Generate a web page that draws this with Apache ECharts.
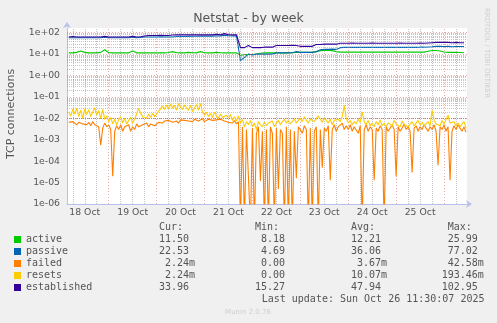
<!DOCTYPE html>
<html><head><meta charset="utf-8">
<script src="https://cdn.jsdelivr.net/npm/echarts@6/dist/echarts.min.js"></script>
<style>html,body{margin:0;padding:0;background:#f0f0f0;}#c{width:497px;height:323px;}</style>
</head><body><div id="c"></div>
<script>
// ---- data (x = hours since 18 Oct 00:00) ----
const seriesNames = ['active','passive','failed','resets','established'];
const seriesColors = ['#00CC00','#0066B3','#FF8000','#FFCC00','#330099'];
const dayLabels = ['18 Oct','19 Oct','20 Oct','21 Oct','22 Oct','23 Oct','24 Oct','25 Oct'];
const dayLabelHours = [12,36,60,84,108,132,156,180];
const midnightHours = [24,48,72,96,120,144,168,192];
const sixHourHours = [6,12,18,30,36,42,54,60,66,78,84,90,102,108,114,126,132,138,150,156,162,174,180,186,198];
const yTickValues = [1e-6,1e-5,1e-4,1e-3,1e-2,1e-1,1,10,100];
const yMinorValues = [];
[1e-6,1e-5,1e-4,1e-3,1e-2,1e-1,1,10].forEach(d=>{for(let k=2;k<=9;k++) yMinorValues.push(k*d);});

// sample times: every 2 h (smooth series) and every 1 h (noisy series)
const coarseHours = []; for (let i=0;i<100;i++) coarseHours.push(4+2*i);
const fineHours = []; for (let i=0;i<200;i++) fineHours.push(4+i);

const established = [
 63,66,63,63,63,63,63,63,63,67,
 63,63,63,63,63,63,67,63,64,70,
 74,74,74,75,74,74,78,79,79,79,
 79,80,79,79,79,79,79,84,79,90,
 80,79,80,20,20,25,20,20,20,21,
 21,21,25,25,25,25,26,25,23,23,
 23,23,28,28,29,29,29,29,32,32,
 32,33,32,32,32,32,33,32,32,32,
 32,32,32,33,32,32,32,32,33,32,
 33,34,35,35,35,35,34,35,34,34];
const passive = [
 58,58,58,58,58,58,58,58,58,62,
 58,58,58,58,58,58,62,58,60,63,
 63,63,63,64,63,63,63,66,66,66,
 67,68,68,69,69,70,69,72,70,77,
 72,70,72,5,7,10,9,10,10,10,
 10,10,11.4,11.4,11.4,11.4,11.5,13,12,12,
 12,12,13,16,16.5,16.5,17,16.5,20,20.5,
 20.5,21,20.5,20.5,21,20.5,20.5,21,20.5,20.5,
 20.5,21,20.5,20.5,21,20.5,21,20.5,21,21,
 21.5,22,23,23,22.5,23,22,22.5,22.5,22.5];
const active = [
 11.4,11.4,12,14,12,11.4,11.4,11.4,12,16,
 11.6,11.4,11.4,11.4,11.6,11.4,14,11.4,11.4,11.6,
 11.4,11.4,11.4,11.6,11.4,11.8,13,11.6,11.4,11.4,
 12,11.6,11.4,13,11.6,11.4,11.4,12,11.6,11.4,
 11.4,11.6,11.4,8.6,9.6,9.6,9.6,10,11,11.4,
 11.4,11.4,11.4,11.6,11.4,11.4,11.6,12,12,12,
 12,12,13,14.5,14.7,14.7,14.5,13,12.3,12.3,
 12.3,12.3,12.5,12.3,12.3,12.3,12.3,12.5,12.3,12.3,
 12.3,12.3,12.5,12.3,12.3,12.3,12.3,12.3,12.5,12.3,
 13.5,14.7,14.7,14,12.5,12,12,12,11.8,11.5];
// 1e-7 = sample of 0 (drawn below the bottom of the log scale)
const failed = [
 6.5e-3,5.5e-3,7e-3,6e-3,5e-3,6.5e-3,7.5e-3,5.5e-3,6e-3,5e-3,
 6.5e-3,4.5e-3,7e-3,5e-3,6e-3,4e-3,5.5e-4,3.5e-3,6e-3,4e-3,
 5e-3,3e-3,2e-5,2.5e-3,4.5e-3,3e-3,5e-3,2.5e-3,4e-3,3.5e-3,
 5e-3,2.5e-3,4e-3,3e-3,5.5e-3,4e-3,3.5e-3,5e-3,4.5e-3,6e-3,
 4e-3,5.5e-3,6e-3,4.5e-3,5e-3,6.5e-3,7e-3,6e-3,7.5e-3,6.5e-3,
 8e-3,7e-3,6.5e-3,8e-3,7.5e-3,6e-3,8.5e-3,7e-3,8e-3,9e-3,
 7.5e-3,8e-3,7e-3,9e-3,8e-3,7.5e-3,8.5e-3,9.5e-3,7e-3,8e-3,
 9e-3,7.5e-3,8e-3,6.5e-3,8.5e-3,7e-3,9e-3,8e-3,7.5e-3,8e-3,
 6.5e-3,7.5e-3,6e-3,8e-3,5.5e-3,7e-3,1e-7,4e-3,1e-7,3e-3,
 2.5e-3,1e-7,3.5e-3,1e-7,2e-3,4e-3,1.2e-5,2.5e-3,1e-7,3e-3,
 1e-7,4e-3,2e-3,1e-7,3.5e-3,5e-6,3e-3,2e-3,1e-7,4e-3,
 1e-7,3e-3,1e-7,2.5e-3,1.6e-5,4e-3,3e-3,2e-3,4.5e-3,3e-3,
 1e-7,3.5e-3,1e-7,2.5e-3,4e-3,1e-7,3e-3,5e-5,3.5e-3,2.5e-3,
 4.5e-3,1.3e-5,3e-3,5e-3,2.5e-3,4e-3,3.5e-3,6e-3,3e-3,4.5e-3,
 3e-3,5e-3,2.5e-3,4e-3,3.5e-3,2e-3,4.5e-3,1e-7,3e-3,5e-3,
 2.5e-3,4e-3,3e-3,1.3e-5,3.5e-3,2.5e-3,4.5e-3,3e-3,1e-7,4e-3,
 2.5e-3,3.5e-3,5e-3,3e-3,2e-5,4e-3,2.5e-3,3.5e-3,5.5e-3,3e-3,
 4e-3,2.5e-3,3e-5,3.5e-3,4.5e-3,2.5e-3,4e-3,3e-3,5e-3,3.5e-3,
 2.5e-3,4e-3,3e-3,5e-3,2.5e-3,6.5e-5,4e-3,3e-3,5e-3,2.5e-3,
 4e-3,1.3e-5,2.5e-3,4.5e-3,3e-3,5e-3,3.5e-3,2.5e-3,4e-3,2.24e-3];
const resets = [
 0.020,0.013,0.027,0.016,0.030,0.012,0.024,0.010,0.028,0.015,
 0.025,0.012,0.020,0.031,0.014,0.023,0.010,0.026,0.009,0.013,
 0.007,0.011,0.0055,0.009,0.005,0.0085,0.012,0.006,0.010,0.0055,
 0.008,0.011,0.006,0.009,0.011,0.029,0.017,0.012,0.014,0.010,
 0.016,0.011,0.017,0.012,0.011,0.021,0.026,0.037,0.026,0.042,
 0.028,0.047,0.030,0.040,0.024,0.049,0.033,0.026,0.042,0.031,
 0.024,0.040,0.020,0.031,0.044,0.024,0.050,0.019,0.014,0.019,
 0.012,0.017,0.011,0.020,0.013,0.010,0.016,0.011,0.009,0.014,
 0.010,0.015,0.008,0.012,0.0075,0.013,0.006,0.009,0.004,0.007,
 0.005,0.008,0.004,0.006,0.003,0.007,0.005,0.004,0.0065,0.0045,
 0.006,0.005,0.0075,0.004,0.006,0.008,0.005,0.007,0.009,0.006,
 0.008,0.0055,0.007,0.0095,0.006,0.008,0.010,0.007,0.012,0.008,
 0.006,0.009,0.011,0.007,0.0085,0.013,0.009,0.0065,0.010,0.008,
 0.006,0.009,0.005,0.008,0.0065,0.009,0.007,0.012,0.040,0.010,
 0.006,0.008,0.005,0.007,0.0055,0.009,0.0065,0.020,0.007,0.005,
 0.008,0.0045,0.006,0.004,0.007,0.005,0.0085,0.0045,0.006,0.004,
 0.006,0.007,0.0045,0.008,0.0055,0.0065,0.004,0.0075,0.005,0.006,
 0.004,0.0055,0.007,0.0045,0.006,0.008,0.005,0.0065,0.0045,0.0055,
 0.007,0.0045,0.024,0.008,0.0055,0.0065,0.0045,0.008,0.0055,0.006,
 0.014,0.006,0.005,0.007,0.0045,0.006,0.004,0.0055,0.007,0.0035];

// legend statistics (text)
const curText = ['11.50','22.53','2.24m','2.24m','33.96'];
const minText = ['8.18','4.69','0.00','0.00','15.27'];
const avgText = ['12.21','36.06','3.67m','10.07m','47.94'];
const maxText = ['25.99','77.02','42.58m','193.46m','102.95'];
const lastUpdate = 'Last update: Sun Oct 26 11:30:07 2025';

// ---- chart ----
const chart = echarts.init(document.getElementById('c'), null, {renderer:'canvas'});
const zip = (xs, ys) => xs.map((x,i)=>[x, ys[i]]);
const seriesValues = [
  zip(coarseHours, active), zip(coarseHours, passive),
  zip(fineHours, failed), zip(fineHours, resets), zip(coarseHours, established)];

function fmtExp(v){
  const l = Math.log10(v), e = Math.round(l);
  if (Math.abs(l-e) > 1e-6) return '';
  const a = Math.abs(e);
  return '1e' + (e<0?'-':'+') + (a<10?'0':'') + a;
}
const minorStyle = {color:'rgba(140,140,140,0.5)', width:1, type:[1,1]};
const majorStyle = {color:'rgba(225,110,110,0.6)', width:1, type:[1,2]};
const gridLines = [];
yMinorValues.forEach(v=>gridLines.push({yAxis:v, lineStyle:minorStyle}));
sixHourHours.forEach(v=>gridLines.push({xAxis:v, lineStyle:minorStyle}));
yTickValues.forEach(v=>gridLines.push({yAxis:v, lineStyle:majorStyle}));
midnightHours.forEach(v=>gridLines.push({xAxis:v, lineStyle:majorStyle}));

const mono = '"DejaVu Sans Mono", monospace';
const sans = '"DejaVu Sans", sans-serif';
const txt = (text, x, y, opts={}) => ({type:'text', silent:true, rotation: opts.rotation||0, x, y,
  style:{text, x:0, y:0, fill: opts.fill||'#555', font: opts.font || ('10px ' + mono),
    align: opts.align||'left', verticalAlign:'middle'}});

const graphics = [];
graphics.push(txt('Netstat - by week', 248.5, 18.5, {align:'center', font:'12.5px ' + sans}));
graphics.push(txt('TCP connections', 11, 114, {align:'center', font:'11px ' + sans, rotation:Math.PI/2}));
graphics.push(txt('RRDTOOL / TOBI OETIKER', 487, 53, {align:'center', font:'7px ' + sans, fill:'#cfcfcf', rotation:-Math.PI/2}));
graphics.push(txt('Munin 2.0.76', 248, 312, {align:'center', font:'7px ' + sans, fill:'#cfcfcf'}));
const rowY = [239.5, 251.5, 263.5, 275.5, 287.5];
const headY = 227.5;
const colX = {cur:159, min:255, avg:351, max:441.7};
graphics.push(txt('Cur:', 159, headY));
graphics.push(txt('Min:', 255, headY));
graphics.push(txt('Avg:', 351, headY));
graphics.push(txt('Max:', 447.7, headY));
const fmtCol = (s, w) => {
  const unit = s.endsWith('m') ? 'm' : ' ';
  const num = unit==='m' ? s.slice(0,-1) : s;
  return num.padStart(w) + unit;
};
seriesNames.forEach((n,i)=>{
  graphics.push({type:'rect', silent:true, shape:{x:14, y:rowY[i]-3.5, width:7, height:7}, style:{fill:seriesColors[i]}});
  graphics.push(txt(n, 26, rowY[i]));
  graphics.push(txt(fmtCol(curText[i],5), colX.cur, rowY[i]));
  graphics.push(txt(fmtCol(minText[i],5), colX.min, rowY[i]));
  graphics.push(txt(fmtCol(avgText[i],5), colX.avg, rowY[i]));
  graphics.push(txt(fmtCol(maxText[i],6), colX.max, rowY[i]));
});
graphics.push(txt(lastUpdate, 261.7, 299.5));

const axisColor = '#b9c1ea';
const option = {
  backgroundColor:'#f0f0f0',
  animation:false,
  grid:{left:67, right:30, top:28, bottom:119, show:true, backgroundColor:'#ffffff', borderWidth:0},
  xAxis:{type:'value', min:3.1, max:203.5,
    axisLine:{show:true, lineStyle:{color:axisColor, width:1}, symbol:['none','arrow'], symbolSize:[6,6], symbolOffset:[0,5]},
    axisTick:{show:false}, splitLine:{show:false},
    axisLabel:{customValues:dayLabelHours, color:'#555', fontSize:9.3, fontFamily:'DejaVu Sans', margin:4,
      formatter:(v)=>{const i = dayLabelHours.indexOf(Math.round(v)); return i>=0 ? dayLabels[i] : '';}}},
  yAxis:{type:'log', logBase:10, min:1e-6, max:165,
    axisLine:{show:true, lineStyle:{color:axisColor, width:1}, symbol:['none','arrow'], symbolSize:[6,6], symbolOffset:[0,6]},
    axisTick:{show:false}, splitLine:{show:false}, minorSplitLine:{show:false},
    axisLabel:{customValues:yTickValues, color:'#555', fontSize:9.3, fontFamily:'DejaVu Sans', margin:7, formatter:fmtExp}},
  graphic: graphics,
  series: [
    {type:'line', name:'grid', data:[], z:1, silent:true,
      markLine:{silent:true, symbol:['none','none'], label:{show:false}, animation:false, data:gridLines}}
  ].concat(seriesNames.map((n,i)=>({
    type:'line', name:n, data:seriesValues[i], z:3+i, showSymbol:false, symbol:'none', clip:true,
    lineStyle:{color:seriesColors[i], width:1.1}, itemStyle:{color:seriesColors[i]}
  })))
};
chart.setOption(option);
</script></body></html>
